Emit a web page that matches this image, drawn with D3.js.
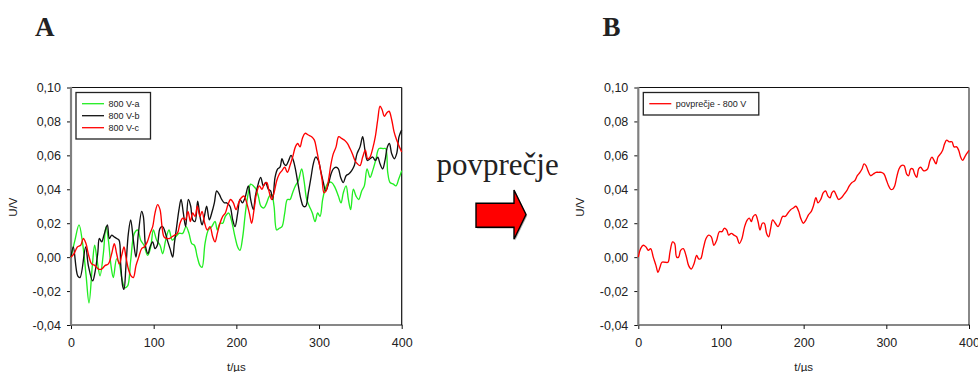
<!DOCTYPE html>
<html><head><meta charset="utf-8">
<script src="https://cdn.jsdelivr.net/npm/d3@7/dist/d3.min.js"></script>
<style>
html,body{margin:0;padding:0;background:#fff;}
svg{display:block;}
text{font-family:"Liberation Sans",Arial,sans-serif;fill:#222;}
</style></head>
<body>
<svg id="chart" width="978" height="372"></svg>
<script>
// ---- data ----
const xTicks = [0, 100, 200, 300, 400];
const yTicks = [-0.04, -0.02, 0.00, 0.02, 0.04, 0.06, 0.08, 0.10];
const seriesNamesA = ["800 V-a", "800 V-b", "800 V-c"];
const seriesNameB = "povprečje - 800 V";

const greenA = [[0,0.000],[4.8,0.010],[9.7,0.019],[14.1,0.008],[18.1,-0.010],[21.8,-0.027],[25.8,-0.005],[28.6,0.007],[31.9,-0.003],[35.1,-0.011],[39.1,0.002],[42.3,0.018],[45.2,0.010],[48.4,-0.005],[51.2,-0.012],[55.2,-0.001],[58.5,-0.004],[61.7,-0.013],[65.3,-0.018],[68.5,-0.017],[72.2,-0.002],[76.6,0.014],[80.6,0.016],[84.3,0.010],[88.3,0.007],[92.7,0.001],[96.4,0.006],[99.6,0.016],[103.6,0.010],[107.7,0.007],[110.9,0.002],[114.5,0.010],[118.5,0.016],[122.6,0.010],[126.6,0.012],[130.6,0.014],[135.1,0.014],[139.1,0.018],[142.7,0.014],[146,0.008],[149.2,0.007],[152.8,0.000],[156,-0.005],[158.5,-0.006],[162.1,0.008],[166.1,0.016],[170.2,0.018],[174.2,0.021],[177,0.016],[180.2,0.020],[183.5,0.020],[186.7,0.024],[190.7,0.026],[194.4,0.021],[198.4,0.012],[201.6,0.006],[204.4,0.004],[207.7,0.012],[210.9,0.026],[214.5,0.038],[217.3,0.043],[220.6,0.042],[223.8,0.040],[226.6,0.036],[229.8,0.030],[233.5,0.029],[236.7,0.032],[239.9,0.036],[242.7,0.037],[245.6,0.030],[248.8,0.016],[252,0.017],[255.2,0.018],[258.5,0.026],[261.7,0.034],[264.9,0.034],[268.1,0.038],[271.4,0.042],[275,0.045],[279,0.052],[281.9,0.045],[285.1,0.034],[288.3,0.030],[291.9,0.026],[295.2,0.021],[298.4,0.026],[301.2,0.024],[304.4,0.034],[307.3,0.040],[311.3,0.044],[315.3,0.044],[319.4,0.041],[323.4,0.036],[326.6,0.032],[329.4,0.038],[332.7,0.042],[335.5,0.034],[338.3,0.028],[341.5,0.040],[344.8,0.036],[348,0.034],[351.6,0.039],[354.8,0.042],[358.1,0.052],[361.7,0.047],[364.9,0.051],[368.5,0.057],[372.6,0.064],[377.8,0.064],[380.6,0.064],[383.1,0.050],[385.9,0.044],[389.9,0.043],[393.1,0.042],[396.4,0.046],[400,0.051]];

const blackT = [0,2.8,8.1,10.9,17.7,21,26.2,29,32.3,34.3,37.1,39.9,44,46.4,49.2,52,55.2,58.1,60.1,62.5,64.1,66.5,69.4,72.2,75.4,78.6,81.5,85.5,87.5,90.3,93.1,95.6,98.8,101.6,104.4,107.7,110.9,113.7,116.5,119.8,123,125,127.8,130.6,133.1,135.9,138.7,141.9,144.8,147.2,150,153.2,156,158.5,161.3,164.1,167.3,170.2,173.4,176.2,179.4,182.3,185.5,188.3,192.3,195.6,198.4,201.6,204.4,207.3,210.5,214.5,217.3,220.6,223,225.8,229.4,232.7,235.5,238.7,241.5,244,246.8,250,252.8,255.2,257.7,260.1,263.3,266.1,269,271.8,275,278.2,281,283.9,287.1,290.3,293.1,296,299.2,302,305.2,308.1,311.3,314.5,317.3,320.6,323.4,326.2,329.4,332.7,335.9,339.5,342.7,346,349.6,352.8,355.6,358.5,361.7,364.9,368.1,371,373.8,377,379.8,382.7,385.1,387.9,391.1,393.9,396.8,400];
const blackV = [0.000,0.006,-0.011,-0.012,0.006,-0.005,-0.014,-0.009,0.002,0.011,0.009,0.013,0.019,0.011,0.013,0.012,0.011,0.010,-0.004,-0.017,-0.019,-0.005,0.014,0.022,0.010,0.000,0.014,0.027,0.024,0.006,0.002,0.006,0.009,0.005,0.007,0.017,0.018,0.015,0.010,0.005,0.000,0.008,0.018,0.028,0.034,0.026,0.018,0.034,0.030,0.022,0.021,0.033,0.024,0.019,0.024,0.030,0.022,0.026,0.032,0.039,0.037,0.034,0.032,0.032,0.030,0.022,0.018,0.026,0.034,0.032,0.035,0.042,0.034,0.028,0.036,0.042,0.047,0.042,0.044,0.040,0.039,0.034,0.047,0.052,0.053,0.058,0.055,0.054,0.057,0.060,0.057,0.051,0.042,0.034,0.030,0.030,0.038,0.047,0.055,0.059,0.057,0.051,0.044,0.039,0.043,0.049,0.052,0.053,0.052,0.047,0.044,0.048,0.049,0.051,0.054,0.061,0.065,0.071,0.063,0.057,0.058,0.059,0.057,0.059,0.055,0.052,0.057,0.065,0.067,0.061,0.058,0.061,0.071,0.075];

const redT = [0,3.6,7.7,11.7,14.9,18.1,21.4,25,29,33.1,37.1,41.1,45.2,49.2,52.4,55.2,58.5,61.3,64.1,66.5,69.4,72.6,75.4,78.6,81.9,85.5,88.7,92.3,95.6,98.8,101.6,104.8,107.7,110.1,112.5,115.7,119,122.2,125.4,128.6,131.9,135.1,138.3,141.5,144.4,147.2,150,152.8,156,158.5,161.7,164.9,168.1,171.4,174.2,177,180.2,183.5,186.7,189.9,193.1,196.4,199.6,202.8,206,209.3,212.5,215.7,218.5,221.4,224.6,227.8,231,233.9,236.7,239.9,242.7,245.6,248.8,252,255.2,258.5,261.7,264.9,268.1,271.4,274.2,277,279.8,283.1,287.1,291.1,294.4,297.2,300.4,303.6,306,308.5,311.3,314.5,317.3,320.6,323.8,327.4,330.6,334.3,337.5,340.3,343.5,346.4,349.6,352.8,356,358.9,361.7,364.9,368.1,371,373.8,376.2,379,381.9,384.7,387.9,390.7,393.9,397.2,400];
const redV = [0.000,0.002,0.006,0.007,0.011,0.008,0.001,-0.004,-0.005,-0.007,-0.007,-0.005,-0.004,0.002,0.008,0.002,-0.004,0.001,0.006,0.000,-0.007,-0.011,-0.012,-0.005,0.000,0.005,0.006,0.009,0.014,0.018,0.026,0.031,0.028,0.018,0.012,0.011,0.011,0.012,0.013,0.014,0.020,0.023,0.022,0.027,0.021,0.026,0.024,0.030,0.024,0.027,0.020,0.016,0.018,0.012,0.009,0.014,0.020,0.024,0.026,0.031,0.034,0.032,0.028,0.032,0.035,0.036,0.032,0.026,0.020,0.028,0.038,0.042,0.040,0.043,0.044,0.038,0.034,0.038,0.045,0.049,0.051,0.053,0.050,0.054,0.059,0.065,0.067,0.065,0.070,0.073,0.072,0.071,0.069,0.063,0.055,0.046,0.038,0.039,0.045,0.055,0.061,0.065,0.071,0.070,0.069,0.067,0.064,0.061,0.057,0.055,0.054,0.059,0.063,0.058,0.059,0.064,0.071,0.081,0.089,0.087,0.083,0.085,0.086,0.081,0.074,0.069,0.065,0.062];

const avgT = [0,2.8,6,9.3,12.1,14.9,18.1,21.4,23.8,26.2,28.6,32.3,35.9,38.3,41.5,44,46.4,48.8,51.2,54.4,57.7,60.9,64.1,67.3,70.6,73,75.4,78.6,81.9,85.1,88.3,91.5,94.8,98,101.2,104,106.9,109.3,112.5,115.7,119,122.2,125.4,128.6,131.9,134.3,136.7,139.1,141.9,144.8,147.2,150,152.4,155.2,157.7,160.1,162.5,165.7,169,171.4,174.6,177.8,181,184.3,187.5,190.7,194,196.4,199.6,202.8,206,209.3,211.7,214.9,217.3,220.6,223.8,226.6,229.4,231.9,234.3,236.7,239.9,242.3,245.6,248.8,252,255.2,258.5,261.7,264.9,268.1,270.6,273,275.4,277.8,281,284.3,287.5,290.7,294,297.2,300.4,302.8,305.2,307.7,310.1,312.5,315.3,318.1,321.4,324.6,327,329.4,331.9,334.3,336.7,339.1,341.5,344.8,347.2,350,352.8,355.2,357.7,360.1,362.5,365.7,368.1,370.6,373,376.2,379.4,381.9,385.1,387.5,389.9,392.3,394.8,397.2,400];
const avgV = [0.000,0.005,0.007,0.006,0.004,0.005,0.000,-0.005,-0.009,-0.006,-0.003,-0.003,-0.003,0.003,0.009,0.008,0.000,0.000,0.004,0.005,0.001,-0.005,-0.007,-0.004,0.001,-0.001,-0.001,0.005,0.011,0.013,0.012,0.007,0.010,0.015,0.015,0.017,0.016,0.013,0.014,0.013,0.012,0.008,0.011,0.018,0.022,0.023,0.021,0.024,0.025,0.021,0.016,0.020,0.020,0.014,0.012,0.017,0.022,0.020,0.018,0.020,0.024,0.024,0.026,0.028,0.029,0.030,0.027,0.023,0.020,0.022,0.025,0.027,0.030,0.035,0.032,0.034,0.038,0.039,0.036,0.035,0.038,0.039,0.036,0.034,0.035,0.037,0.039,0.042,0.044,0.045,0.048,0.050,0.052,0.055,0.054,0.051,0.048,0.049,0.050,0.050,0.050,0.049,0.045,0.042,0.040,0.040,0.042,0.047,0.052,0.054,0.054,0.049,0.048,0.052,0.052,0.049,0.047,0.052,0.053,0.051,0.051,0.052,0.057,0.059,0.057,0.055,0.059,0.061,0.063,0.067,0.069,0.068,0.068,0.065,0.065,0.063,0.059,0.057,0.059,0.061,0.063];

// ---- drawing ----
const svg = d3.select("#chart");
const fmt = d3.formatLocale({decimal: ",", thousands: ".", grouping: [3], currency: ["", ""], minus: "-"}).format(".2f");

function panel(left, right, series, legendW, legendItems, rightBorderGray) {
  const top = 87.5, bottom = 325;
  const x = d3.scaleLinear().domain([0, 400]).range([left, right]);
  const y = d3.scaleLinear().domain([-0.04, 0.10]).range([bottom, top]);
  const g = svg.append("g");

  // frame
  g.append("line").attr("x1", left).attr("x2", right).attr("y1", top).attr("y2", top).attr("stroke", "#111").attr("stroke-width", 1.2);
  g.append("line").attr("x1", right).attr("x2", right).attr("y1", top).attr("y2", bottom)
    .attr("stroke", rightBorderGray ? "#888" : "#111").attr("stroke-width", rightBorderGray ? 2 : 1.2);

  // axes
  const ya = g.append("g").attr("transform", `translate(${left},0)`)
    .call(d3.axisLeft(y).tickValues(yTicks).tickSize(4).tickPadding(6).tickFormat(fmt));
  ya.select(".domain").remove();
  ya.selectAll("text").style("font-size", "12.5px").attr("fill", "#222");
  ya.selectAll("line").attr("stroke", "#111");

  const xa = g.append("g").attr("transform", `translate(0,${bottom})`)
    .call(d3.axisBottom(x).tickValues(xTicks).tickSize(4).tickPadding(9).tickFormat(d3.format("d")));
  xa.select(".domain").remove();
  xa.selectAll("text").style("font-size", "12.5px").attr("fill", "#222");
  xa.selectAll("line").attr("stroke", "#111");

  g.append("line").attr("x1", left).attr("x2", right + 0.6).attr("y1", bottom).attr("y2", bottom).attr("stroke", "#111").attr("stroke-width", 1.2);
  g.append("line").attr("x1", left).attr("x2", left).attr("y1", top - 0.6).attr("y2", bottom + 0.6).attr("stroke", "#808080").attr("stroke-width", 2.2);

  // axis titles
  g.append("text").attr("transform", `translate(${left - 54},${(top + bottom) / 2 + 1}) rotate(-90)`)
    .attr("text-anchor", "middle").style("font-size", "11.5px").text("U/V");
  g.append("text").attr("x", (left + right) / 2).attr("y", 370.5)
    .attr("text-anchor", "middle").style("font-size", "11.5px").text("t/\u00b5s");

  // lines
  const line = d3.line().curve(d3.curveCatmullRom.alpha(0.5)).x(d => x(d[0])).y(d => y(d[1]));
  series.forEach(s => {
    g.append("path").datum(s.data).attr("d", line).attr("fill", "none")
      .attr("stroke", s.color).attr("stroke-width", 1.35).attr("stroke-linejoin", "round");
  });

  // legend
  const lx = left + 5, ly = 92.5;
  const lh = legendItems.length * 12 + 10.5;
  g.append("rect").attr("x", lx).attr("y", ly).attr("width", legendW).attr("height", lh)
    .attr("fill", "#fff").attr("stroke", "#222").attr("stroke-width", 1.3);
  legendItems.forEach((it, i) => {
    const yy = ly + 11.2 + i * 12;
    g.append("line").attr("x1", lx + 6).attr("x2", lx + 28).attr("y1", yy).attr("y2", yy)
      .attr("stroke", it.color).attr("stroke-width", 1.3);
    g.append("text").attr("x", lx + 32.5).attr("y", yy + 3.2).style("font-size", "9px").text(it.name);
  });
}

const green = "#22ee22", black = "#111111", red = "#ff0000";
panel(71, 401.7, [
  {data: greenA, color: green},
  {data: d3.zip(blackT, blackV), color: black},
  {data: d3.zip(redT, redV), color: red}
], 74.5, [
  {name: seriesNamesA[0], color: green},
  {name: seriesNamesA[1], color: black},
  {name: seriesNamesA[2], color: red}
], false);

panel(638.3, 969, [
  {data: d3.zip(avgT, avgV), color: red}
], 115.5, [
  {name: seriesNameB, color: red}
], true);

// panel letters
svg.append("text").attr("x", 35).attr("y", 35.5).style("font-family", "'Liberation Serif','Times New Roman',serif")
  .style("font-weight", "bold").style("font-size", "27px").attr("fill", "#000").text("A");
svg.append("text").attr("x", 602.5).attr("y", 35.5).style("font-family", "'Liberation Serif','Times New Roman',serif")
  .style("font-weight", "bold").style("font-size", "27px").attr("fill", "#000").text("B");

// middle label and arrow
svg.append("text").attr("x", 436.5).attr("y", 175).style("font-family", "'Liberation Serif','Times New Roman',serif")
  .style("font-size", "31px").attr("fill", "#000").text("povprečje");

const arrowPts = [[476, 203.3], [514, 203.3], [514, 190], [526, 214.5], [514, 239.3], [514, 227.3], [476, 227.3]];
svg.append("polygon").attr("points", arrowPts.map(p => [p[0] + 1.2, p[1] + 1.2].join(",")).join(" "))
  .attr("fill", "#555").attr("opacity", 0.5);
svg.append("polygon").attr("points", arrowPts.map(p => p.join(",")).join(" "))
  .attr("fill", "#ff0000").attr("stroke", "#000").attr("stroke-width", 1.4).attr("stroke-linejoin", "miter");
</script>
</body></html>
